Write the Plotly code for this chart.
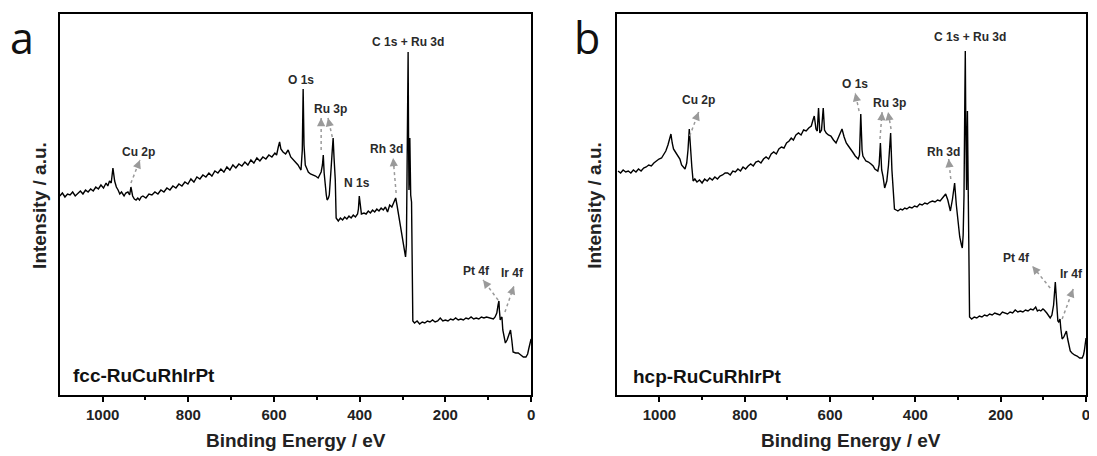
import plotly.graph_objects as go

# ---------------- data ----------------
fcc_be = [1100, 1094, 1088, 1082, 1076, 1070, 1064, 1058, 1052, 1046, 1040, 1034, 1028, 1022, 1016, 1010,
          1004, 998, 992, 988, 984, 980, 976, 972, 968, 964, 960, 956, 950, 946, 941, 937, 934, 930, 926,
          922, 918, 914, 910, 906, 899, 892, 885, 878, 871, 864, 857, 850, 843, 836, 829, 822, 815, 808,
          801, 794, 787, 780, 773, 766, 759, 752, 745, 738, 731, 724, 717, 710, 703, 696, 689, 682, 675,
          668, 661, 654, 647, 640, 633, 626, 619, 612, 605, 598, 594, 590, 587, 584, 579, 573, 567, 561,
          555, 549, 544, 540, 537, 534, 532, 530, 527, 523, 520, 515, 509, 503, 497, 493, 490, 487, 485,
          483, 481, 478, 476, 473, 471, 469, 467, 464, 462, 460, 457, 455, 450, 445, 440, 435, 430, 425,
          420, 415, 410, 405, 403, 401, 399, 396, 390, 385, 380, 375, 370, 365, 360, 355, 350, 345, 340,
          335, 330, 325, 320, 316, 313, 310, 306, 302, 298, 295, 293, 291, 289, 287, 286, 285, 284, 283,
          282, 281, 279, 278, 277, 276, 272, 266, 260, 254, 248, 242, 236, 230, 224, 218, 212, 206, 200,
          194, 188, 182, 176, 170, 164, 158, 152, 146, 140, 134, 128, 122, 116, 110, 104, 98, 92, 88, 84,
          80, 77, 75, 74, 72, 70, 68, 66, 63, 60, 56, 52, 48, 45, 42, 36, 30, 24, 18, 12, 8, 5, 2, 0]
fcc_int = [199, 202, 198, 201, 200, 203, 199, 202, 204, 201, 205, 203, 206, 204, 208, 206,
           210, 207, 212, 209, 214, 212, 227, 214, 208, 205, 201, 203, 199, 202, 203, 200, 208, 199, 196,
           195, 197, 195, 198, 199, 197, 201, 200, 203, 201, 205, 203, 207, 205, 209, 207, 211, 209, 213,
           211, 216, 213, 218, 216, 220, 218, 222, 219, 224, 222, 226, 223, 228, 225, 230, 227, 231, 229,
           233, 230, 235, 232, 237, 234, 238, 236, 240, 238, 242, 240, 248, 253, 246, 243, 241, 245, 238,
           235, 233, 230, 227, 225, 245, 306, 250, 230, 226, 223, 221, 220, 219, 217, 220, 223, 230, 240,
           222, 210, 200, 195, 197, 200, 210, 225, 245, 257, 238, 215, 177, 174, 177, 175, 178, 176, 179,
           177, 180, 178, 181, 186, 199, 188, 181, 182, 181, 184, 182, 185, 183, 186, 184, 187, 185, 188,
           183, 190, 188, 193, 197, 190, 182, 170, 158, 148, 141, 138, 150, 230, 343, 260, 205, 220, 257,
           225, 200, 193, 150, 100, 74, 72, 74, 71, 73, 72, 74, 73, 75, 73, 74, 77, 74, 75,
           74, 76, 75, 77, 75, 76, 75, 77, 76, 78, 76, 77, 76, 78, 77, 78, 77, 76, 76, 78,
           82, 90, 94, 85, 75, 77, 78, 65, 58, 52, 55, 60, 65, 55, 43, 42, 42, 40, 38, 38, 41, 47, 53, 56]

hcp_be = [1097, 1091, 1085, 1079, 1073, 1067, 1061, 1055, 1049, 1043, 1037, 1031, 1025, 1019, 1013, 1007,
          1001, 995, 990, 985, 980, 976, 973, 970, 967, 964, 960, 956, 952, 948, 944, 940, 936, 933, 930,
          927, 924, 921, 917, 912, 906, 900, 894, 888, 882, 876, 870, 864, 858, 852, 846, 840, 834, 828,
          822, 816, 810, 804, 798, 792, 786, 780, 774, 768, 762, 756, 750, 744, 738, 732, 726, 720, 714,
          708, 702, 696, 691, 686, 680, 674, 668, 662, 656, 650, 644, 640, 637, 633, 630, 627, 624, 620,
          616, 613, 609, 604, 598, 592, 586, 580, 576, 572, 567, 562, 557, 553, 547, 541, 534, 531, 528,
          525, 523, 516, 510, 504, 499, 495, 488, 485, 482, 479, 476, 472, 467, 463, 458, 455, 453, 449,
          445, 441, 435, 430, 425, 420, 414, 408, 402, 396, 390, 384, 378, 372, 366, 360, 354, 348, 342,
          336, 333, 329, 324, 318, 313, 308, 304, 300, 296, 292, 290, 288, 286, 284, 283, 282, 281, 280,
          279, 278, 277, 276, 274, 273, 268, 262, 256, 250, 244, 238, 232, 226, 220, 214, 208, 202, 196,
          190, 184, 178, 172, 166, 160, 154, 148, 142, 136, 130, 124, 118, 114, 110, 106, 101, 98, 92,
          88, 84, 80, 76, 72, 70, 68, 66, 64, 61, 59, 56, 52, 48, 46, 43, 40, 37, 33, 27, 21, 15, 9,
          6, 4, 2, 0]
hcp_int = [224, 222, 225, 223, 224, 222, 225, 223, 226, 224, 227, 228, 230, 229, 232, 234,
           236, 237, 240, 244, 250, 256, 261, 252, 246, 244, 241, 239, 236, 230, 228, 226, 232, 245, 266,
           240, 228, 214, 216, 213, 215, 212, 216, 214, 217, 215, 218, 216, 219, 220, 222, 222, 220, 224,
           223, 226, 224, 228, 226, 229, 231, 229, 233, 234, 232, 236, 238, 236, 241, 243, 241, 246, 248,
           247, 252, 254, 257, 255, 260, 262, 260, 265, 264, 267, 269, 275, 279, 266, 264, 287, 262, 265,
           287, 265, 262, 260, 259, 255, 252, 258, 262, 266, 258, 252, 249, 246, 243, 239, 236, 240, 281,
           245, 239, 234, 233, 231, 229, 226, 224, 230, 252, 225, 219, 207, 214, 230, 262, 225, 209, 186,
           185, 184, 186, 185, 187, 186, 188, 187, 189, 188, 191, 190, 192, 191, 193, 194, 193, 195, 194,
           197, 199, 201, 195, 184, 196, 212, 190, 172, 158, 150, 147, 160, 200, 300, 344, 280, 230, 205,
           240, 284, 240, 200, 140, 78, 76, 78, 77, 79, 78, 80, 79, 81, 80, 82, 81, 80, 83,
           82, 81, 83, 82, 85, 83, 84, 83, 85, 84, 86, 85, 88, 84, 85, 84, 86, 85, 82,
           79, 77, 80, 90, 113, 95, 82, 74, 73, 76, 66, 56, 58, 63, 64, 56, 48, 44, 42, 40, 39, 37, 37,
           40, 44, 50, 57]

sample_names = ["fcc-RuCuRhIrPt", "hcp-RuCuRhIrPt"]
panel_letters = ["a", "b"]
x_ticks = [1000, 800, 600, 400, 200, 0]

# peak labels: text, label position (BE, I), arrows [(tail BE, tail I, head BE, head I), ...]
fcc_labels = [
    ("Cu 2p", 917, 243, [(934, 212, 913, 235)]),
    ("O 1s", 537, 315, []),
    ("Ru 3p", 467, 286, [(490, 245, 490, 277), (464, 258, 474, 277)]),
    ("C 1s + Ru 3d", 287, 353, []),
    ("N 1s", 406, 212, []),
    ("Rh 3d", 338, 246, [(315, 202, 322, 237)]),
    ("Pt 4f", 128, 124, [(77, 95, 112, 115)]),
    ("Ir 4f", 44, 122, [(61, 83, 40, 109)]),
]
hcp_labels = [
    ("Cu 2p", 908, 295, [(929, 259, 908, 283)]),
    ("O 1s", 541, 311, [(532, 284, 541, 302)]),
    ("Ru 3p", 460, 292, [(483, 256, 478, 283), (457, 266, 464, 283)]),
    ("C 1s + Ru 3d", 271, 358, []),
    ("Rh 3d", 334, 243, [(317, 216, 322, 236)]),
    ("Pt 4f", 163, 137, [(84, 107, 126, 129)]),
    ("Ir 4f", 33, 121, [(56, 76, 30, 106)]),
]

# ---------------- figure ----------------
# page body has an 8px margin, so the figure is drawn 8px in from the window edge
OFF = 8
W, H = 1097 - OFF, 456 - OFF
def fx(p):
    return min(1.0, max(0.0, (p - OFF) / W))
def fy(p):
    return min(1.0, max(0.0, 1 - (p - OFF) / H))

FONT = "Arial, Liberation Sans, sans-serif"
fig = go.Figure()
fig.add_trace(go.Scatter(x=fcc_be, y=fcc_int, mode="lines", line=dict(color="black", width=1.4),
                         xaxis="x", yaxis="y", showlegend=False, hoverinfo="skip"))
fig.add_trace(go.Scatter(x=hcp_be, y=hcp_int, mode="lines", line=dict(color="black", width=1.4),
                         xaxis="x2", yaxis="y2", showlegend=False, hoverinfo="skip"))

def xaxis(domain, anchor):
    return dict(domain=domain, anchor=anchor, range=[1100, 0], showline=True, linecolor="black",
                linewidth=2, mirror=True, showgrid=False, zeroline=False, ticks="outside",
                ticklen=5, tickwidth=2, tickcolor="black", tickmode="array", tickvals=x_ticks,
                ticktext=[str(v) for v in x_ticks],
                tickfont=dict(family=FONT, size=15, color="#222", weight="bold"),
                minor=dict(tickmode="array", tickvals=[900, 700, 500, 300, 100], ticks="outside",
                           ticklen=3, tickwidth=2, tickcolor="black"))

def yaxis(domain, anchor):
    return dict(domain=domain, anchor=anchor, range=[0, 381], showline=True, linecolor="black",
                linewidth=2, mirror=True, showgrid=False, zeroline=False, ticks="",
                showticklabels=False)

ydom = [fy(395), fy(14)]
fig.update_layout(
    width=W, height=H, margin=dict(l=0, r=0, t=0, b=0),
    paper_bgcolor="white", plot_bgcolor="white",
    xaxis=xaxis([fx(60), fx(533)], "y"), yaxis=yaxis(ydom, "x"),
    xaxis2=xaxis([fx(619), fx(1090)], "y2"), yaxis2=yaxis(ydom, "x2"),
)

annotations = []
shapes = []
for (labels, xr, yr) in [(fcc_labels, "x", "y"), (hcp_labels, "x2", "y2")]:
    for text, lx, ly, arrows in labels:
        annotations.append(dict(x=lx, y=ly, xref=xr, yref=yr, text=text, showarrow=False,
                                xanchor="center", yanchor="middle",
                                font=dict(family=FONT, size=12, color="#2a2a2a", weight="bold")))
        for tx, ty, hx, hy in arrows:
            shapes.append(dict(type="line", xref=xr, yref=yr, x0=tx, y0=ty, x1=hx, y1=hy,
                               line=dict(color="#9a9a9a", width=1.5, dash="dot")))
            annotations.append(dict(x=hx, y=hy, xref=xr, yref=yr, axref=xr, ayref=yr,
                                    ax=hx + (tx - hx) * 0.3, ay=hy + (ty - hy) * 0.3, text="",
                                    showarrow=True, arrowhead=2, arrowsize=1.1, arrowwidth=1.5,
                                    arrowcolor="#9a9a9a"))

# sample names
annotations.append(dict(x=1074, y=20, xref="x", yref="y", xanchor="left", yanchor="middle",
                        text=sample_names[0], showarrow=False,
                        font=dict(family=FONT, size=19, color="#111", weight="bold")))
annotations.append(dict(x=1067, y=19, xref="x2", yref="y2", xanchor="left", yanchor="middle",
                        text=sample_names[1], showarrow=False,
                        font=dict(family=FONT, size=19, color="#111", weight="bold")))

# axis titles
for cx, ytx in [(297, 40), (854, 597)]:
    annotations.append(dict(x=fx(cx), y=fy(440), xref="paper", yref="paper", text="Binding Energy / eV",
                            xanchor="center", yanchor="middle", showarrow=False,
                            font=dict(family=FONT, size=19, color="#222", weight="bold")))
    annotations.append(dict(x=fx(ytx), y=fy(205), xref="paper", yref="paper", text="Intensity / a.u.",
                            xanchor="center", yanchor="middle", textangle=-90, showarrow=False,
                            font=dict(family=FONT, size=19, color="#222", weight="bold")))

# panel letters
for letter, cx in zip(panel_letters, [22, 589]):
    annotations.append(dict(x=fx(cx), y=fy(38), xref="paper", yref="paper", text=letter,
                            xanchor="center", yanchor="middle", showarrow=False,
                            font=dict(family="Open Sans, sans-serif", size=43, color="#111")))

fig.update_layout(annotations=annotations, shapes=shapes)
fig.write_html("out.html")
